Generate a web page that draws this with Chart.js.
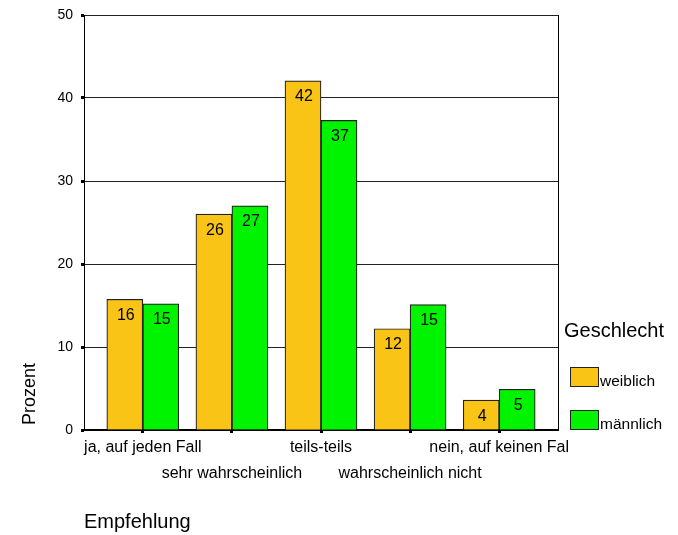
<!DOCTYPE html>
<html><head><meta charset="utf-8">
<script src="https://cdn.jsdelivr.net/npm/chart.js@4/dist/chart.umd.min.js"></script>
<style>html,body{margin:0;padding:0;background:#fff}#wrap{width:678px;height:535px}</style>
</head><body><div id="wrap"><canvas id="c" width="678" height="535"></canvas></div>
<script>
const categories = ["ja, auf jeden Fall","sehr wahrscheinlich","teils-teils","wahrscheinlich nicht","nein, auf keinen Fal"];
const weiblich = [15.75, 26.0, 42.07, 12.2, 3.6];
const maennlich = [15.2, 27.0, 37.3, 15.1, 4.9];
const seriesNames = ["weiblich","männlich"];
const yTicks = [0,10,20,30,40,50];
const legendTitle = "Geschlecht";
const xTitle = "Empfehlung";
const yTitle = "Prozent";

const FONT = "'Liberation Sans', Arial, sans-serif";
const colors = ["#F9C416","#00F400"];

const frame = {
  id:'frame',
  afterDraw(chart){
    const ctx = chart.ctx, a = chart.chartArea;
    ctx.save();
    ctx.strokeStyle = '#000'; ctx.lineWidth = 1;
    ctx.beginPath(); ctx.moveTo(a.right+0.5, a.top); ctx.lineTo(a.right+0.5, a.bottom); ctx.stroke();
    // value labels
    ctx.fillStyle = '#000'; ctx.font = '16px ' + FONT; ctx.textAlign='center'; ctx.textBaseline='middle';
    chart.data.datasets.forEach((ds,di)=>{
      chart.getDatasetMeta(di).data.forEach((bar,i)=>{
        ctx.fillText(String(Math.round(ds.data[i].y)), bar.x+1, bar.y+16);
      });
    });
    // legend
    ctx.textAlign='left'; ctx.textBaseline='alphabetic';
    ctx.font = '20px ' + FONT;
    ctx.fillText(legendTitle, a.right+6, 337);
    ctx.font = '15.5px ' + FONT;
    chart.data.datasets.forEach((ds,di)=>{
      const y0 = 367 + di*43;
      ctx.fillStyle = ds.backgroundColor;
      ctx.fillRect(a.right+12, y0, 28, 19);
      ctx.strokeStyle = '#222'; ctx.lineWidth = 1;
      ctx.strokeRect(a.right+12.5, y0+0.5, 28, 19);
      ctx.fillStyle = '#000';
      ctx.fillText(ds.label, a.right+42, y0+19);
    });
    // axis titles
    ctx.font = '20px ' + FONT;
    ctx.fillText(xTitle, a.left, 528);
    ctx.save();
    ctx.translate(35, 394); ctx.rotate(-Math.PI/2);
    ctx.textAlign='center';
    ctx.font = '18px ' + FONT;
    ctx.fillText(yTitle, 0, 0);
    ctx.restore();
    ctx.restore();
  }
};

new Chart(document.getElementById('c'), {
  type:'bar',
  data:{
    datasets:[
      {label:seriesNames[0], data:categories.map((c,i)=>({x:i,y:weiblich[i]})), backgroundColor:colors[0], borderColor:'#222', borderWidth:1.2, barThickness:36},
      {label:seriesNames[1], data:categories.map((c,i)=>({x:i,y:maennlich[i]})), backgroundColor:colors[1], borderColor:'#222', borderWidth:1.2, barThickness:36}
    ]
  },
  options:{
    responsive:false, animation:false,
    layout:{padding:{left:0,top:13,right:120,bottom:0}},
    plugins:{legend:{display:false}, tooltip:{enabled:false}},
    scales:{
      x:{
        type:'linear', min:-0.66, max:4.66, offset:false,
        afterBuildTicks(s){ s.ticks = categories.map((c,i)=>({value:i})); },
        afterFit(s){ s.height = 105; },
        ticks:{
          autoSkip:false, maxRotation:0, padding:1, color:'#000',
          font:{family:FONT, size:16, lineHeight:1.66},
          callback(v){ const i = Math.round(v); return i%2===0 ? [categories[i],''] : ['',categories[i]]; }
        },
        grid:{offset:false, drawOnChartArea:false, drawTicks:true, tickLength:3, tickWidth:3, tickColor:'#000'},
        border:{display:true, color:'#000', width:2}
      },
      y:{
        min:0, max:50,
        afterBuildTicks(s){ s.ticks = yTicks.map(v=>({value:v})); },
        afterFit(s){ s.width = 84; },
        ticks:{color:'#000', padding:8, font:{family:FONT, size:14, lineHeight:1.0}},
        grid:{color:'#222', lineWidth:1, tickLength:3, tickWidth:3, tickColor:'#000'},
        border:{display:true, color:'#000', width:1}
      }
    }
  },
  plugins:[frame]
});
</script>
</body></html>
